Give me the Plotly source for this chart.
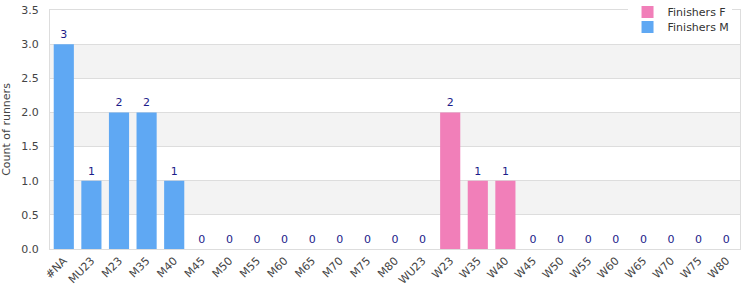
import plotly.graph_objects as go

categories = ["#NA", "MU23", "M23", "M35", "M40", "M45", "M50", "M55", "M60", "M65",
              "M70", "M75", "M80", "WU23", "W23", "W35", "W40", "W45", "W50", "W55",
              "W60", "W65", "W70", "W75", "W80"]
finishers_m = [3, 1, 2, 2, 1, 0, 0, 0, 0, 0, 0, 0, 0, 0, 0, 0, 0, 0, 0, 0, 0, 0, 0, 0, 0]
finishers_f = [0, 0, 0, 0, 0, 0, 0, 0, 0, 0, 0, 0, 0, 0, 2, 1, 1, 0, 0, 0, 0, 0, 0, 0, 0]

is_w = [c.startswith("W") for c in categories]
text_m = ["" if w else str(v) for v, w in zip(finishers_m, is_w)]
text_f = [str(v) if w else "" for v, w in zip(finishers_f, is_w)]

label_font = dict(family="DejaVu Sans", size=11, color="#1c1c8a")

fig = go.Figure()
fig.add_trace(go.Bar(x=categories, y=finishers_f, name="Finishers F", legend="legend",
                     showlegend=True,
                     marker=dict(color="#f17fb9", line=dict(width=0)),
                     text=text_f, textposition="outside", textfont=label_font,
                     cliponaxis=False))
fig.add_trace(go.Bar(x=categories, y=finishers_m, name="Finishers M", legend="legend2",
                     showlegend=True,
                     marker=dict(color="#5fa8f3", line=dict(width=0)),
                     text=text_m, textposition="outside", textfont=label_font,
                     cliponaxis=False))

shapes = []
for y0 in [0.5, 1.5, 2.5]:
    shapes.append(dict(type="rect", xref="paper", yref="y", x0=0, x1=1, y0=y0, y1=y0 + 0.5,
                       fillcolor="#f3f3f3", line=dict(width=0), layer="below"))

leg_common = dict(xanchor="left", yanchor="top",
                  font=dict(size=11, color="#333"), itemwidth=30, visible=True)

fig.update_layout(
    width=750, height=300,
    showlegend=True,
    margin=dict(l=50, r=10, t=10, b=51, autoexpand=False),
    barmode="overlay",
    bargap=0.27,
    plot_bgcolor="white", paper_bgcolor="white",
    font=dict(family="DejaVu Sans", size=11, color="#444"),
    shapes=shapes,
    legend=dict(x=0.837, y=1.052, bgcolor="white", **leg_common),
    legend2=dict(x=0.837, y=0.990, bgcolor="rgba(0,0,0,0)", **leg_common),
    xaxis=dict(type="category", tickangle=-45, showline=True, linecolor="#dddddd",
               mirror=True, ticks="", tickfont=dict(size=11, color="#444"),
               showgrid=False, range=[-0.5, 24.5], automargin=False),
    yaxis=dict(range=[0, 3.5], dtick=0.5, tickformat=".1f", showline=True,
               linecolor="#dddddd", mirror=True, gridcolor="#dddddd",
               zeroline=False, ticks="", ticklabelstandoff=8, automargin=False,
               tickfont=dict(size=11, color="#444"),
               title=dict(text="Count of runners", font=dict(size=11, color="#444"))),
)

fig.write_html("out.html")
